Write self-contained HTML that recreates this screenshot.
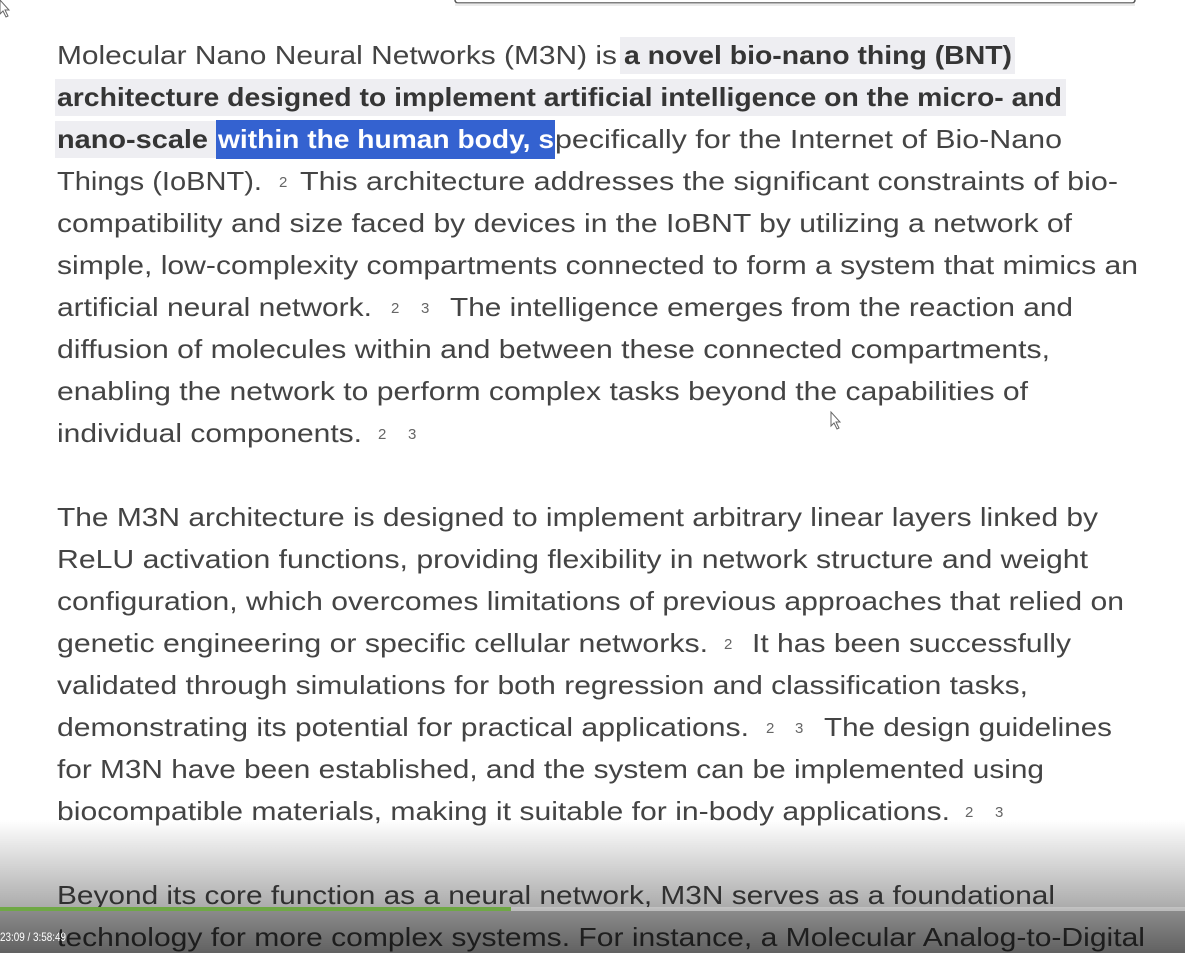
<!DOCTYPE html>
<html><head><meta charset="utf-8"><style>
html,body{margin:0;padding:0;background:#fff;width:1185px;height:953px;overflow:hidden}
svg{display:block}
.t{font-family:"Liberation Sans",sans-serif;font-size:26px;fill:#444}
.b{font-weight:bold;fill:#353535}
.s{font-family:"Liberation Sans",sans-serif;font-size:15px;fill:#666}
</style></head><body>
<svg width="1185" height="953" viewBox="0 0 1185 953" xmlns="http://www.w3.org/2000/svg">
<defs>
<linearGradient id="g" x1="0" y1="0" x2="0" y2="1">
<stop offset="0" stop-color="#000" stop-opacity="0"/>
<stop offset="0.66" stop-color="#000" stop-opacity="0.33"/>
<stop offset="0.67" stop-color="#000" stop-opacity="0.45"/>
<stop offset="1" stop-color="#000" stop-opacity="0.62"/>
</linearGradient>
</defs>
<rect x="455" y="-6" width="680" height="9" rx="3" fill="#fff" stroke="#555" stroke-width="1.5"/>
<rect x="455" y="3" width="680" height="3" fill="#ddd" opacity="0.6"/>
<rect x="620" y="37" width="395" height="37" fill="#eeeef2"/>
<rect x="55" y="79" width="1011" height="37" fill="#eeeef2"/>
<rect x="55" y="121" width="161" height="37" fill="#eeeef2"/>
<rect x="216" y="120" width="339" height="39" fill="#3462d0"/>
<g class="t">
<text x="57" y="64" textLength="560" lengthAdjust="spacingAndGlyphs">Molecular Nano Neural Networks (M3N) is</text>
<text class="t b" x="624" y="64" textLength="388" lengthAdjust="spacingAndGlyphs">a novel bio-nano thing (BNT)</text>
<text class="t b" x="57" y="106" textLength="1005" lengthAdjust="spacingAndGlyphs">architecture designed to implement artificial intelligence on the micro- and</text>
<text class="t b" x="57" y="148" textLength="151" lengthAdjust="spacingAndGlyphs">nano-scale</text>
<text class="t b" x="218" y="148" textLength="336" lengthAdjust="spacingAndGlyphs" style="fill:#fff">within the human body, s</text>
<text x="555" y="148" textLength="507" lengthAdjust="spacingAndGlyphs">pecifically for the Internet of Bio-Nano</text>
<text x="57" y="190" textLength="205" lengthAdjust="spacingAndGlyphs">Things (IoBNT).</text>
<text x="300" y="190" textLength="818" lengthAdjust="spacingAndGlyphs">This architecture addresses the significant constraints of bio-</text>
<text x="57" y="232" textLength="1015" lengthAdjust="spacingAndGlyphs">compatibility and size faced by devices in the IoBNT by utilizing a network of</text>
<text x="57" y="274" textLength="1081" lengthAdjust="spacingAndGlyphs">simple, low-complexity compartments connected to form a system that mimics an</text>
<text x="57" y="316" textLength="315" lengthAdjust="spacingAndGlyphs">artificial neural network.</text>
<text x="450" y="316" textLength="623" lengthAdjust="spacingAndGlyphs">The intelligence emerges from the reaction and</text>
<text x="57" y="358" textLength="993" lengthAdjust="spacingAndGlyphs">diffusion of molecules within and between these connected compartments,</text>
<text x="57" y="400" textLength="971" lengthAdjust="spacingAndGlyphs">enabling the network to perform complex tasks beyond the capabilities of</text>
<text x="57" y="442" textLength="305" lengthAdjust="spacingAndGlyphs">individual components.</text>
<text x="57" y="526" textLength="1041" lengthAdjust="spacingAndGlyphs">The M3N architecture is designed to implement arbitrary linear layers linked by</text>
<text x="57" y="568" textLength="1031" lengthAdjust="spacingAndGlyphs">ReLU activation functions, providing flexibility in network structure and weight</text>
<text x="57" y="610" textLength="1067" lengthAdjust="spacingAndGlyphs">configuration, which overcomes limitations of previous approaches that relied on</text>
<text x="57" y="652" textLength="651" lengthAdjust="spacingAndGlyphs">genetic engineering or specific cellular networks.</text>
<text x="752" y="652" textLength="319" lengthAdjust="spacingAndGlyphs">It has been successfully</text>
<text x="57" y="694" textLength="971" lengthAdjust="spacingAndGlyphs">validated through simulations for both regression and classification tasks,</text>
<text x="57" y="736" textLength="692" lengthAdjust="spacingAndGlyphs">demonstrating its potential for practical applications.</text>
<text x="824" y="736" textLength="288" lengthAdjust="spacingAndGlyphs">The design guidelines</text>
<text x="57" y="778" textLength="987" lengthAdjust="spacingAndGlyphs">for M3N have been established, and the system can be implemented using</text>
<text x="57" y="820" textLength="893" lengthAdjust="spacingAndGlyphs">biocompatible materials, making it suitable for in-body applications.</text>
<text x="57" y="904" textLength="998" lengthAdjust="spacingAndGlyphs">Beyond its core function as a neural network, M3N serves as a foundational</text>
<text x="57" y="946" textLength="1088" lengthAdjust="spacingAndGlyphs">technology for more complex systems. For instance, a Molecular Analog-to-Digital</text>
</g>
<g class="s">
<text x="279" y="187">2</text>
<text x="391" y="313">2</text><text x="421" y="313">3</text>
<text x="378" y="439">2</text><text x="408" y="439">3</text>
<text x="724" y="649">2</text>
<text x="766" y="733">2</text><text x="795" y="733">3</text>
<text x="965" y="817">2</text><text x="995" y="817">3</text>
</g>
<path d="M831 412 L831 426 L834 423 L837 429 L839 428 L836 422 L840 422 Z" fill="#fff" stroke="#666" stroke-width="1"/>
<path d="M0 0 L0 14 L3 11 L6 17 L8 16 L5 10 L9 10 Z" fill="#fff" stroke="#666" stroke-width="1"/>
<rect x="0" y="820" width="1185" height="133" fill="url(#g)"/>
<rect x="0" y="907" width="1185" height="4" fill="#c8c8c8" opacity="0.8"/>
<rect x="0" y="907" width="511" height="4" fill="#6fa845"/>
<text x="0" y="941" font-family="Liberation Sans, sans-serif" font-size="12" fill="#fff" textLength="66" lengthAdjust="spacingAndGlyphs">23:09 / 3:58:49</text>
</svg>
</body></html>
